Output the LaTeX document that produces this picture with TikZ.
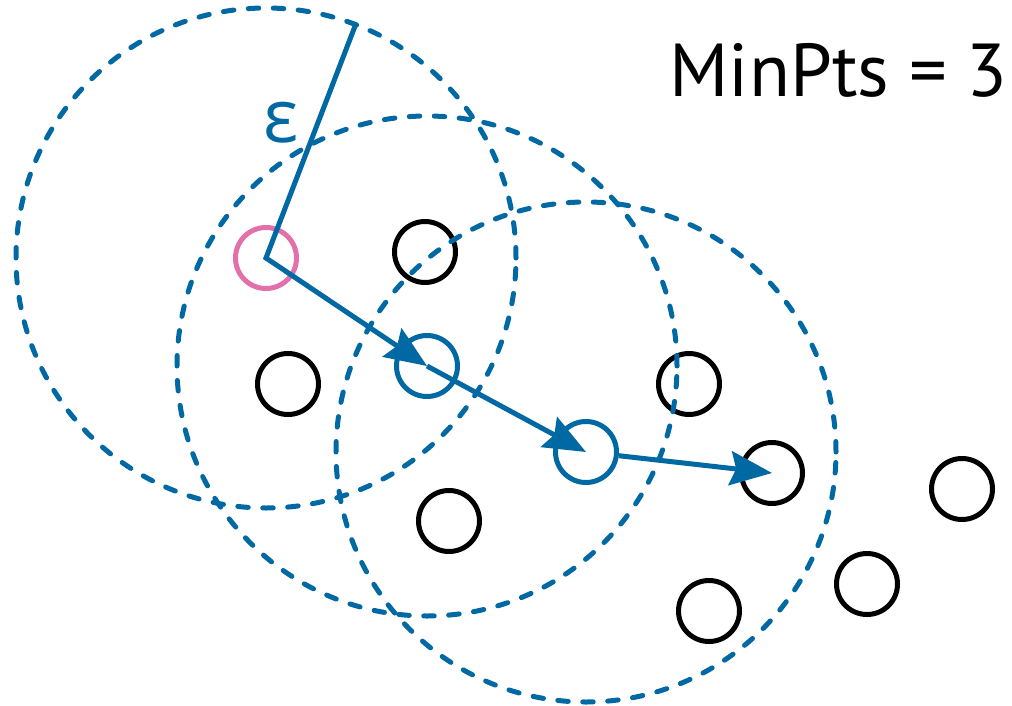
\documentclass[tikz,border=0pt]{standalone}
\usepackage{fontspec}
\setmainfont{PT Sans}
\newfontfamily\grk{Open Sans}
\usetikzlibrary{arrows.meta}
\definecolor{epsblue}{RGB}{0,104,163}
\definecolor{corepink}{RGB}{226,112,170}
\tikzset{
  pt/.style={circle, draw=black, line width=5pt, minimum size=61pt, inner sep=0pt},
  bpt/.style={pt, draw=epsblue},
  ppt/.style={pt, draw=corepink},
  epscirc/.style={draw=epsblue, line width=5pt, line cap=round, dash pattern=on 10.5pt off 14.5pt},
  link/.style={draw=epsblue, line width=5pt, -{Stealth[length=42pt, width=34pt, inset=6pt]}},
}
\begin{document}
\begin{tikzpicture}[x=1pt, y=-1pt]
\useasboundingbox (0,0) rectangle (1012,706);
% points
\node[ppt] (core) at (266,258) {};
\node[bpt] (b1) at (427,366) {};
\node[bpt] (b2) at (586,452) {};
\node[pt] (p1) at (425,252) {};
\node[pt] (p2) at (288,384) {};
\node[pt] (p3) at (689,384) {};
\node[pt] (p4) at (772,473) {};
\node[pt] (p5) at (449,521) {};
\node[pt] (p6) at (962,489) {};
\node[pt] (p7) at (867,584) {};
\node[pt] (p8) at (709,611) {};
% epsilon neighbourhoods
\draw[epscirc] (core.center) circle[radius=250pt];
\draw[epscirc] (b1.center) circle[radius=250pt];
\draw[epscirc] (b2.center) circle[radius=250pt];
% radius and links
\coordinate (rtip) at (355.6,24.6);
\draw[link, line join=miter] (rtip) -- (core.center) -- (b1.center);
\draw[link] (b1.center) -- (b2.center);
\draw[link] (b2) -- (p4.center);
% labels
\node[text=epsblue, font=\grk\fontsize{74}{74}\selectfont, inner sep=0pt] (eps) at (281,123) {ε};
\node[anchor=base east, font=\fontsize{75}{75}\selectfont, inner sep=0pt] (minpts) at (1008,97) {MinPts = 3};
\end{tikzpicture}
\end{document}
